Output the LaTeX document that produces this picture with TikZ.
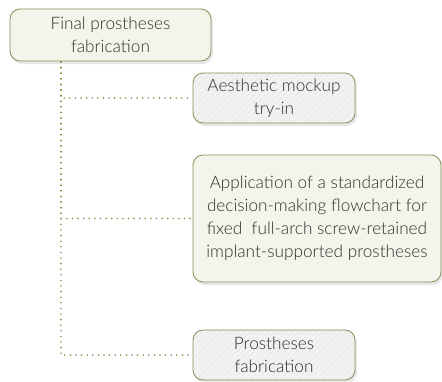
\documentclass[tikz,border=0pt]{standalone}
\usepackage{fontspec}
\setmainfont{Lato Light}
\usetikzlibrary{shadows}
\definecolor{olive}{RGB}{135,140,88}
\definecolor{dotcol}{RGB}{140,145,70}
\definecolor{cream}{RGB}{244,245,234}
\definecolor{stripe}{RGB}{235,235,233}
\definecolor{stripelight}{RGB}{243,243,241}
\definecolor{txt}{RGB}{45,45,45}
\tikzset{
  box/.style={draw=olive, line width=0.8pt, rounded corners=10pt, align=center,
    text=txt, inner sep=0pt, font=\fontsize{17.2}{23}\selectfont,
    drop shadow={shadow xshift=2pt, shadow yshift=-3pt, opacity=0.18}},
  plainbox/.style={box, fill=cream},
  % light diagonal stripes, clipped to the box outline
  stripebox/.style={box, fill=stripe,
    path picture={
      \foreach \k in {-30,...,40}
        \draw[stripelight, line width=2.6pt]
          ([xshift=\k*6pt]path picture bounding box.south west)
          -- ++(140pt,140pt);
    }},
  link/.style={dotcol, line width=1.8pt, line cap=round, dash pattern=on 0pt off 5.6pt}
}
\begin{document}
\begin{tikzpicture}[x=1pt,y=1pt]
  \useasboundingbox[fill=white] (0,0) rectangle (442,-381);
  \node[plainbox, minimum width=201pt, minimum height=52pt] (final) at (110.5,-35)
    {Final prostheses\\fabrication};
  \node[stripebox, minimum width=162pt, minimum height=50pt] (mockup) at (274,-98)
    {Aesthetic mockup\\try-in};
  \node[plainbox, minimum width=248pt, minimum height=127pt] (flow) at (317,-218.5)
    {Application of a standardized\\decision-making flowchart for\\fixed\ \ full-arch screw-retained\\implant-supported prostheses};
  \node[stripebox, minimum width=162pt, minimum height=50pt] (fab) at (274,-355)
    {Prostheses\\fabrication};
  \coordinate (top) at (61,-62);
  \draw[link] (top) |- (mockup.west);
  \draw[link] (top) |- (flow.west);
  \draw[link] (top) |- (fab.west);
\end{tikzpicture}
\end{document}
